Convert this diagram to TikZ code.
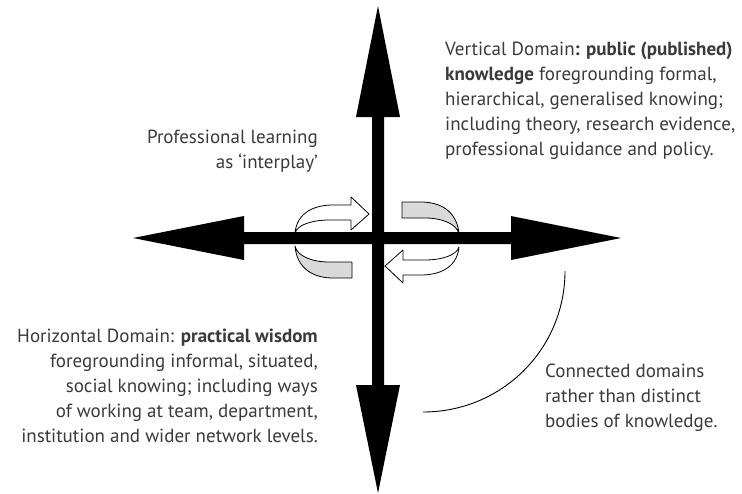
\documentclass[tikz,border=0pt]{standalone}
\usepackage{fontspec}
\setmainfont{PT Sans}
\definecolor{txt}{HTML}{3A3A3A}
\definecolor{ribbongrey}{HTML}{D9D9D9}
\tikzset{
  lbl/.style={inner sep=0pt, text=txt, font=\fontsize{19}{25}\selectfont},
  ribbon/.style={draw=black, line width=0.8pt, line join=round},
  bigarrow/.style={fill=black, draw=none},
}
\newcommand{\ribbonpair}{%
  % front (white) part with arrow head
  \path[ribbon, fill=white] (-82,-7) .. controls (-80,-28) and (-62,-35) .. (-44,-35)
     -- (-26,-35) -- (-26,-43) -- (-8,-26) -- (-26,-10) -- (-26,-20) -- (-48,-20)
     .. controls (-65,-20) and (-80,-15) .. (-82,-7) -- cycle;
  % back (grey) part
  \path[ribbon, fill=ribbongrey] (-82,6) .. controls (-80,30) and (-62,38) .. (-44,38)
     -- (-25,38) -- (-25,22) -- (-48,22)
     .. controls (-65,22) and (-80,16) .. (-82,6) -- cycle;
}
\begin{document}
\begin{tikzpicture}[x=1pt,y=-1pt]
\useasboundingbox (0,0) rectangle (742,493);
% interplay ribbons
\begin{scope}[shift={(377,240)}]
  \ribbonpair
\end{scope}
\begin{scope}[shift={(377,240)}, rotate=180]
  \ribbonpair
\end{scope}
% vertical double arrow
\path[bigarrow] (378,6) -- (400,117) -- (384,117) -- (384,385) -- (400,385)
  -- (378,493) -- (356,385) -- (372,385) -- (372,117) -- (356,117) -- cycle;
% horizontal double arrow
\path[bigarrow] (133,238) -- (244,216) -- (244,232) -- (511,232) -- (511,216)
  -- (621,238) -- (511,260) -- (511,244) -- (244,244) -- (244,260) -- cycle;
% connecting arc
\coordinate (arcA) at (565,271);
\coordinate (arcB) at (423,412);
\draw[line width=0.9pt] (arcA) .. controls (565,349) and (502,412) .. (arcB);
% labels
\node[lbl, anchor=base west] (vert) at (445,55)
  {\begin{tabular}[t]{@{}l@{}}Vertical Domain\textbf{: public (published)}\\
   \textbf{knowledge} foregrounding formal,\\
   hierarchical, generalised knowing;\\
   including theory, research evidence,\\
   professional guidance and policy.\end{tabular}};
\node[lbl, anchor=base east] (prof) at (318,143)
  {\begin{tabular}[t]{@{}r@{}}Professional learning\\as ‘interplay’\end{tabular}};
\node[lbl, anchor=base east] (horiz) at (318,342)
  {\begin{tabular}[t]{@{}r@{}}Horizontal Domain: \textbf{practical wisdom}\\
   foregrounding informal, situated,\\
   social knowing; including ways\\
   of working at team, department,\\
   institution and wider network levels.\end{tabular}};
\node[lbl, anchor=base west] (conn) at (545,377)
  {\begin{tabular}[t]{@{}l@{}}Connected domains\\rather than distinct\\bodies of knowledge.\end{tabular}};
\end{tikzpicture}
\end{document}
